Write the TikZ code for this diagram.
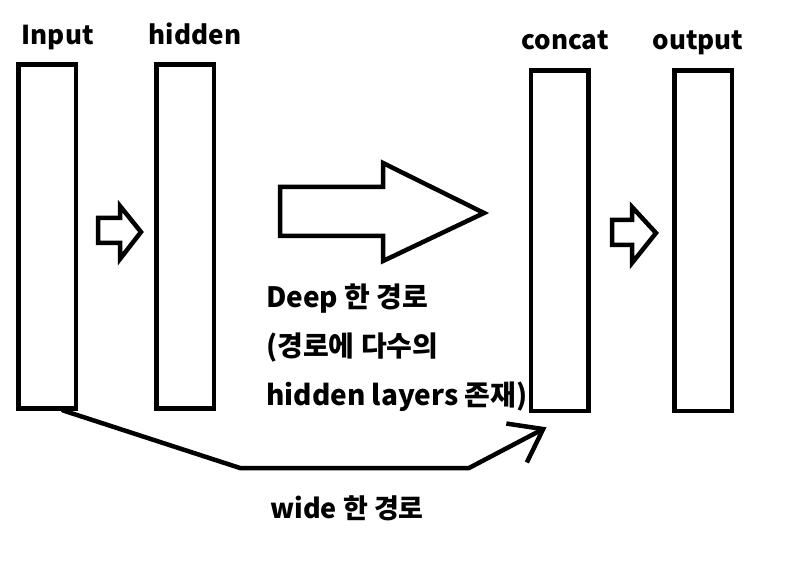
\documentclass[tikz,border=0pt]{standalone}
\usepackage{fontspec}
\setmainfont{Noto Sans CJK KR}
\usetikzlibrary{arrows.meta,positioning,calc}
\tikzset{
  layerbox/.style={draw, line width=4.5pt, minimum width=57.5pt,
                   minimum height=343.5pt, inner sep=0pt},
  layerlab/.style={font=\fontsize{26}{30}\selectfont\bfseries, anchor=base,
                   inner sep=0pt},
  pathlab/.style={font=\fontsize{28}{49}\selectfont\bfseries, align=left,
                  inner sep=0pt},
  blockarrow/.style={draw, line width=4.5pt, line join=miter, fill=white},
  widepath/.style={line width=4.5pt, line join=round, line cap=round,
                   -{Straight Barb[length=30pt, width=44pt]}},
}
\begin{document}
\begin{tikzpicture}[x=1pt, y=-1pt]
  \useasboundingbox (0,0) rectangle (806,561);
  \node[layerbox] (input) at (47,236.5) {};
  \node[layerbox, right=76pt of input] (hidden) {};
  \node[layerbox, minimum height=340.5pt] (concat) at (559.5,240.8) {};
  \node[layerbox, minimum height=340.5pt, right=81.5pt of concat] (output) {};
  \node[layerlab] (inputlab) at (57.7,45) {Input};
  \node[layerlab] (hiddenlab) at (195,45) {hidden};
  \node[layerlab] (concatlab) at (565,50) {concat};
  \node[layerlab] (outputlab) at (698,50) {output};
  \draw[blockarrow] (98,218) -- (120,218) -- (120,206) -- (141,232)
    -- (120,259) -- (120,243) -- (98,243) -- cycle;
  \draw[blockarrow] (280,187) -- (383,187) -- (383,163) -- (484,213)
    -- (383,261) -- (383,236) -- (280,236) -- cycle;
  \draw[blockarrow] (612,220) -- (632,220) -- (632,207) -- (656,233)
    -- (632,263) -- (632,245) -- (612,245) -- cycle;
  \node[pathlab, anchor=base west] (deeplab) at (266,405)
    {Deep 한 경로\\(경로에 다수의\\hidden layers 존재)};
  \draw[widepath] ($(input.south)!0.52!(input.south east)$) -- (240,468)
    -- (469,468) -- ([xshift=18pt, yshift=-14pt]concat.south west);
  \node[layerlab, font=\fontsize{27}{30}\selectfont\bfseries] (widelab)
    at (347,518) {wide 한 경로};
\end{tikzpicture}
\end{document}
